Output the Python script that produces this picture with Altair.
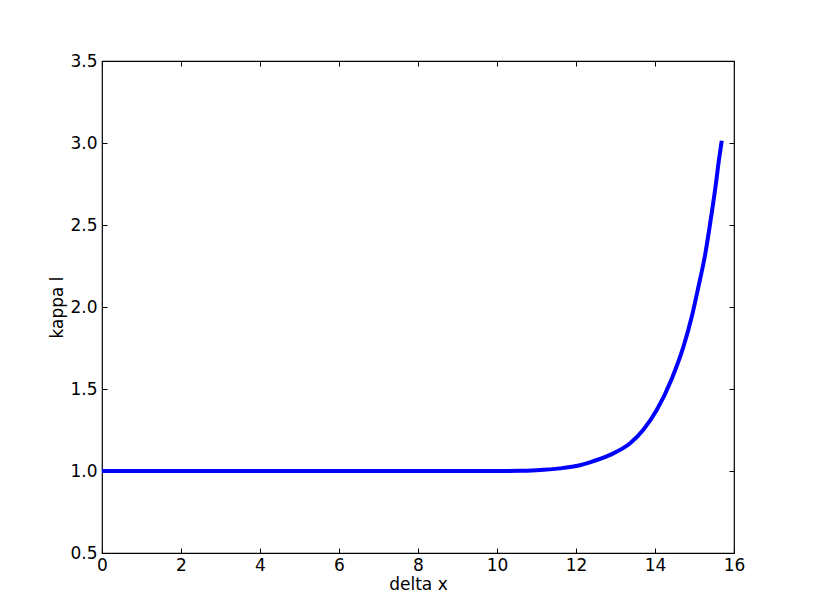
import altair as alt
import pandas as pd

delta_x = [0.0, 2.0, 4.0, 6.0, 8.0, 10.0, 10.6, 11.0, 11.59, 12.0, 12.35, 12.86, 13.37,
           13.70, 14.04, 14.42, 14.72, 14.93, 15.10, 15.27, 15.39, 15.52, 15.63, 15.69]
kappa_l = [1.0, 1.0, 1.0, 1.0, 1.0, 1.0, 1.001, 1.005, 1.016, 1.030, 1.053, 1.098, 1.169,
           1.250, 1.370, 1.56, 1.758, 1.941, 2.124, 2.320, 2.5, 2.713, 2.916, 3.014]

df = pd.DataFrame({"delta x": delta_x, "kappa l": kappa_l})

FONT = "DejaVu Sans"
FS = 17
xs = alt.Scale(domain=[0, 16], nice=False, zero=False)
ys = alt.Scale(domain=[0.5, 3.5], nice=False, zero=False)
xvals = [0, 2, 4, 6, 8, 10, 12, 14, 16]
yvals = [0.5, 1.0, 1.5, 2.0, 2.5, 3.0, 3.5]

base = alt.Chart(df)

main = base.mark_line(color="#0000ff", strokeWidth=4, interpolate="monotone", clip=True).encode(
    x=alt.X("delta x:Q", scale=xs, title="delta x",
            axis=alt.Axis(values=xvals, ticks=False, domain=False, grid=False,
                          labelFont=FONT, labelFontSize=FS, labelColor="black",
                          labelPadding=4, labelFlush=False,
                          titleFont=FONT, titleFontSize=FS, titleFontWeight="normal",
                          titleColor="black", titlePadding=3)),
    y=alt.Y("kappa l:Q", scale=ys, title="kappa l",
            axis=alt.Axis(values=yvals, ticks=False, domain=False, grid=False,
                          format=".1f", labelFont=FONT, labelFontSize=FS,
                          labelColor="black", labelPadding=5, labelFlush=False,
                          titleFont=FONT, titleFontSize=FS, titleFontWeight="normal",
                          titleColor="black", titlePadding=3)),
)

def tick_layer(xorient, yorient):
    return base.mark_line(strokeOpacity=0).encode(
        x=alt.X("delta x:Q", scale=xs, title=None,
                axis=alt.Axis(orient=xorient, values=xvals, labels=False, domain=False,
                              grid=False, ticks=True, tickSize=5, offset=-5,
                              tickColor="black", tickWidth=1)),
        y=alt.Y("kappa l:Q", scale=ys, title=None,
                axis=alt.Axis(orient=yorient, values=yvals, labels=False, domain=False,
                              grid=False, ticks=True, tickSize=5, offset=-5,
                              tickColor="black", tickWidth=1)),
    )

chart = alt.layer(main, tick_layer("bottom", "left"), tick_layer("top", "right")).resolve_axis(
    x="independent", y="independent"
).properties(
    width=632, height=492,
    autosize=alt.AutoSizeParams(type="none"),
    padding={"left": 94, "top": 53, "right": 73, "bottom": 54},
).configure_view(stroke="black", strokeWidth=1.2)

chart.save("out.html", embed_options={"renderer": "svg", "actions": False})
